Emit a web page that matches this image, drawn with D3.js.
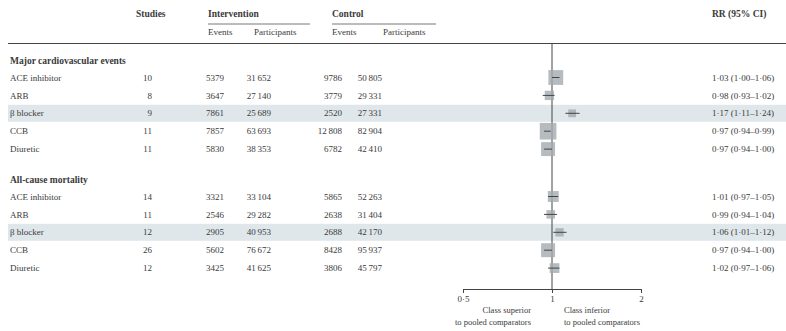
<!DOCTYPE html>
<html>
<head>
<meta charset="utf-8">
<script src="https://cdn.jsdelivr.net/npm/d3@7"></script>
<style>
  html, body { margin: 0; padding: 0; background: #fff; }
  svg text { font-family: "Liberation Serif", "DejaVu Serif", serif; fill: #3a3a3a; }
</style>
</head>
<body>
<svg id="chart" width="786" height="331"></svg>
<script>
// Drug classes compared in each outcome section
const classes = ["ACE inhibitor", "ARB", "\u03b2 blocker", "CCB", "Diuretic"];
const sections = ["Major cardiovascular events", "All-cause mortality"];

// Major cardiovascular events
const maceStudies = [10, 8, 9, 11, 11];
const maceIntEvents = [5379, 3647, 7861, 7857, 5830];
const maceIntParticipants = [31652, 27140, 25689, 63693, 38353];
const maceCtlEvents = [9786, 3779, 2520, 12808, 6782];
const maceCtlParticipants = [50805, 29331, 27331, 82904, 42410];
const maceRR = [1.03, 0.98, 1.17, 0.97, 0.97];
const maceLow = [1.00, 0.93, 1.11, 0.94, 0.94];
const maceHigh = [1.06, 1.02, 1.24, 0.99, 1.00];

// All-cause mortality
const mortStudies = [14, 11, 12, 26, 12];
const mortIntEvents = [3321, 2546, 2905, 5602, 3425];
const mortIntParticipants = [33104, 29282, 40953, 76672, 41625];
const mortCtlEvents = [5865, 2638, 2688, 8428, 3806];
const mortCtlParticipants = [52263, 31404, 42170, 95937, 45797];
const mortRR = [1.01, 0.99, 1.06, 0.97, 1.02];
const mortLow = [0.97, 0.94, 1.01, 0.94, 0.97];
const mortHigh = [1.05, 1.04, 1.12, 1.00, 1.06];

// Axis ticks and the class that is highlighted in each section
const axisTicks = [0.5, 1, 2];
const axisTickLabels = ["0\u00b75", "1", "2"];
const highlighted = "\u03b2 blocker";

const svg = d3.select("#chart");
const W = 786;

// Assemble rows for each section
const sectionData = [
  { name: sections[0], studies: maceStudies, ie: maceIntEvents, ip: maceIntParticipants,
    ce: maceCtlEvents, cp: maceCtlParticipants, rr: maceRR, lo: maceLow, hi: maceHigh },
  { name: sections[1], studies: mortStudies, ie: mortIntEvents, ip: mortIntParticipants,
    ce: mortCtlEvents, cp: mortCtlParticipants, rr: mortRR, lo: mortLow, hi: mortHigh }
];
const rows = [];
sectionData.forEach((s, si) => {
  classes.forEach((c, k) => {
    rows.push({ section: si, idx: k, label: c, studies: s.studies[k], ie: s.ie[k], ip: s.ip[k],
      ce: s.ce[k], cp: s.cp[k], rr: s.rr[k], lo: s.lo[k], hi: s.hi[k] });
  });
});

// Vertical layout: section heading then five rows per section
const sectionTop = d3.scaleOrdinal().domain([0, 1]).range([61, 180]);
const rowStep = 17.9;
const rowY = r => sectionTop(r.section) + 16.5 + r.idx * rowStep;

// Forest plot scale (log)
const x = d3.scaleLog().domain([0.5, 2]).range([463, 641]);

const fmtInt = v => v >= 10000 ? d3.format("d")(v).replace(/(\d{2})(\d{3})$/, "$1\u2009$2") : String(v);
const fmtDec = v => d3.format(".2f")(v).replace(".", "\u00b7");

// Highlight bands
svg.append("g").selectAll("rect")
  .data(rows.filter(r => r.label === highlighted))
  .join("rect")
  .attr("x", 8).attr("width", W - 8)
  .attr("y", r => rowY(r) - 8.5).attr("height", 17)
  .attr("fill", "#dfe7eb");

// Column headers
const head = svg.append("g");
head.append("text").attr("x", 136).attr("y", 17).attr("font-weight", "bold").attr("font-size", 9.5).text("Studies");
head.append("text").attr("x", 208).attr("y", 17).attr("font-weight", "bold").attr("font-size", 9.5).text("Intervention");
head.append("text").attr("x", 332).attr("y", 17).attr("font-weight", "bold").attr("font-size", 9.5).text("Control");
head.append("text").attr("x", 712).attr("y", 17).attr("font-weight", "bold").attr("font-size", 9.5).text("RR (95% CI)");
head.append("line").attr("x1", 208).attr("x2", 310).attr("y1", 24).attr("y2", 24).attr("stroke", "#555").attr("stroke-width", 0.8);
head.append("line").attr("x1", 332).attr("x2", 436).attr("y1", 24).attr("y2", 24).attr("stroke", "#555").attr("stroke-width", 0.8);
[["Events", 208], ["Participants", 254], ["Events", 332], ["Participants", 383]].forEach(([t, px]) => {
  head.append("text").attr("x", px).attr("y", 35).attr("font-size", 9).text(t);
});
head.append("line").attr("x1", 8).attr("x2", W).attr("y1", 43.5).attr("y2", 43.5).attr("stroke", "#444").attr("stroke-width", 1.2);

// Section headings
svg.append("g").selectAll("text")
  .data(sectionData)
  .join("text")
  .attr("x", 10).attr("y", (d, i) => sectionTop(i))
  .attr("dy", "0.35em")
  .attr("font-weight", "bold").attr("font-size", 9.5)
  .text(d => d.name);

// Table columns
const cols = [
  { key: "label", x: 10, anchor: "start", f: v => v },
  { key: "studies", x: 152, anchor: "end", f: String },
  { key: "ie", x: 224, anchor: "end", f: fmtInt },
  { key: "ip", x: 271, anchor: "end", f: fmtInt },
  { key: "ce", x: 342, anchor: "end", f: fmtInt },
  { key: "cp", x: 382, anchor: "end", f: fmtInt },
  { key: "rrText", x: 712, anchor: "start", f: (v, r) => `${fmtDec(r.rr)} (${fmtDec(r.lo)}\u2013${fmtDec(r.hi)})` }
];
const table = svg.append("g");
cols.forEach(c => {
  table.append("g").selectAll("text")
    .data(rows)
    .join("text")
    .attr("x", c.x).attr("y", rowY).attr("dy", "0.35em")
    .attr("text-anchor", c.anchor).attr("font-size", 9)
    .text(r => c.f(r[c.key], r));
});

// Reference line at RR = 1
const axisY = 289;
svg.append("line")
  .attr("x1", x(1)).attr("x2", x(1)).attr("y1", 43.5).attr("y2", axisY)
  .attr("stroke", "#444").attr("stroke-width", 1);

// Confidence intervals and inverse-variance sized boxes
const se = r => (Math.log(r.hi) - Math.log(r.lo)) / 3.92;
const side = r => Math.min(18, 0.22 / se(r));
const marks = svg.append("g");
marks.selectAll("rect")
  .data(rows)
  .join("rect")
  .attr("x", r => x(r.rr) - side(r) / 2)
  .attr("y", r => rowY(r) - side(r) / 2)
  .attr("width", side).attr("height", side)
  .attr("fill", "#a2aaaf").attr("fill-opacity", 0.8);
marks.selectAll("line")
  .data(rows)
  .join("line")
  .attr("x1", r => x(r.lo)).attr("x2", r => x(r.hi))
  .attr("y1", rowY).attr("y2", rowY)
  .attr("stroke", "#444").attr("stroke-width", 1);

// Bottom axis
const axisG = svg.append("g").attr("transform", `translate(0,${axisY})`);
axisG.call(d3.axisBottom(x).tickValues(axisTicks).tickFormat((d, i) => axisTickLabels[i]).tickSize(4).tickSizeOuter(0));
axisG.select(".domain").attr("stroke", "#444");
axisG.selectAll(".tick line").attr("stroke", "#444");
axisG.selectAll(".tick text").attr("font-size", 9).attr("font-family", "Liberation Serif, serif").attr("fill", "#3a3a3a");

// Direction labels
const dir = svg.append("g").attr("font-size", 8.5);
dir.append("text").attr("x", 531).attr("y", 313).attr("text-anchor", "end").text("Class superior");
dir.append("text").attr("x", 531).attr("y", 325).attr("text-anchor", "end").text("to pooled comparators");
dir.append("text").attr("x", 564).attr("y", 313).text("Class inferior");
dir.append("text").attr("x", 564).attr("y", 325).text("to pooled comparators");
</script>
</body>
</html>
